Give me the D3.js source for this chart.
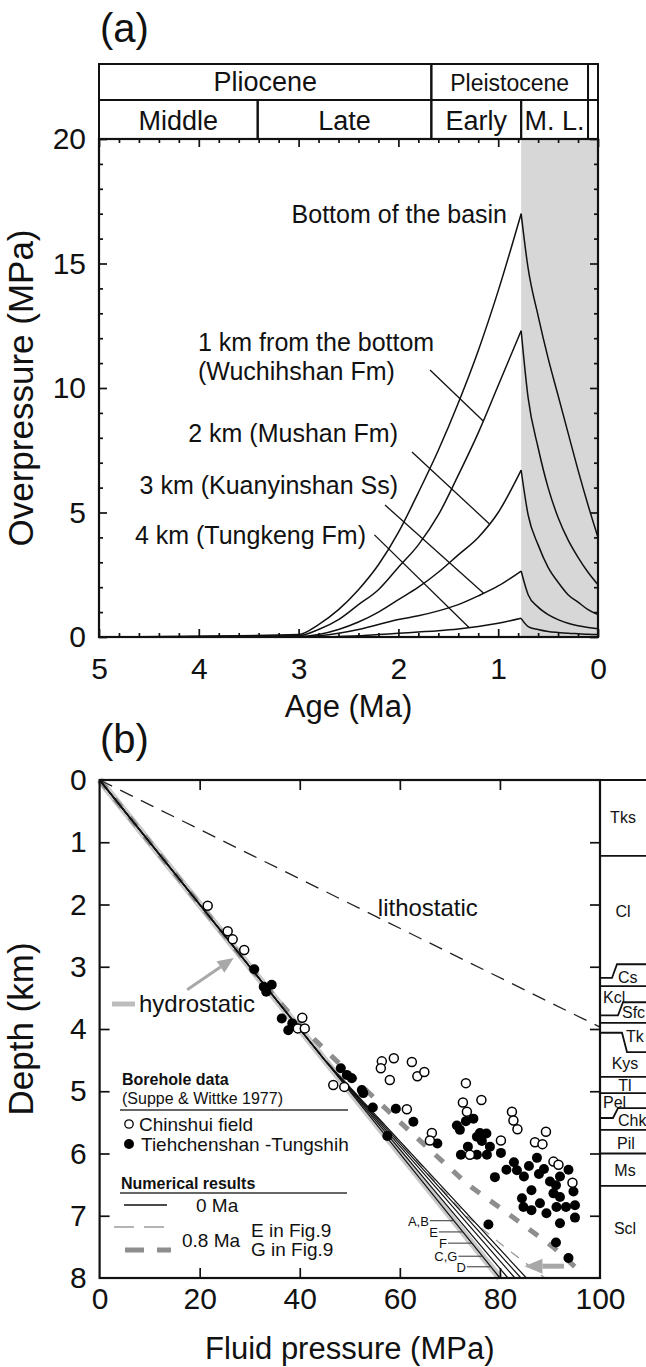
<!DOCTYPE html>
<html><head><meta charset="utf-8">
<script src="https://cdn.jsdelivr.net/npm/d3@7"></script>
<style>
body{margin:0;background:#fff}
svg{display:block}
text{font-family:"Liberation Sans",Arial,Helvetica,sans-serif;fill:#111}
</style>
</head><body>
<svg id="c" width="646" height="1367"></svg>
<script>
// ===================== DATA: panel (a) =====================
const ageTicks = [5,4,3,2,1,0];
const overTicks = [0,5,10,15,20];
const epochNames = ["Pliocene","Pleistocene",""];
const epochStart = [5,1.67,0.1];
const epochEnd   = [1.67,0.1,0];
const stageNames = ["Middle","Late","Early","M. L.",""];
const stageStart = [5,3.41,1.67,0.77,0.1];
const stageEnd   = [3.41,1.67,0.77,0.1,0];
const shadeFrom = 0.77;
const riseAge  = [3.0,2.8,2.6,2.4,2.2,2.0,1.8,1.6,1.4,1.2,1.0,0.77];
const decayAge = [0.77,0.7,0.6,0.5,0.4,0.3,0.2,0.1,0];
const bottomRise  = [0.1,0.5,1.1,1.9,2.9,4.2,5.8,7.5,9.4,11.5,13.9,17.0];
const bottomDecay = [17.0,14.8,12.9,11.2,9.7,8.2,6.7,5.3,4.0];
const km1Rise  = [0.05,0.3,0.7,1.3,1.9,2.8,3.7,4.9,6.5,8.2,10.1,12.3];
const km1Decay = [12.3,9.6,7.6,6.0,4.8,3.9,3.2,2.6,2.1];
const km2Rise  = [0.02,0.1,0.3,0.6,1.0,1.5,2.0,2.6,3.3,4.0,5.0,6.7];
const km2Decay = [6.7,4.9,3.7,2.8,2.2,1.7,1.4,1.1,0.9];
const km3Rise  = [0,0.05,0.15,0.3,0.5,0.7,0.85,1.05,1.3,1.65,2.05,2.65];
const km3Decay = [2.65,1.7,1.2,0.9,0.7,0.55,0.45,0.38,0.33];
const km4Rise  = [0,0,0.02,0.05,0.1,0.15,0.2,0.25,0.32,0.42,0.55,0.75];
const km4Decay = [0.75,0.42,0.3,0.22,0.18,0.15,0.13,0.11,0.1];
const curveLabel1 = ["Bottom of the basin","1 km from the bottom","2 km (Mushan Fm)","3 km (Kuanyinshan Ss)","4 km (Tungkeng Fm)"];
const curveLabel2 = ["","(Wuchihshan Fm)","","",""];
const leaderFromAge = [null,1.683,1.864,2.134,2.24];
const leaderFromVal = [null,10.72,7.43,5.3,4.1];
const leaderToAge   = [null,1.15,1.09,1.146,1.29];

// ===================== DATA: panel (b) =====================
const pressTicks = [0,20,40,60,80,100];
const depthTicks = [0,1,2,3,4,5,6,7,8];
const lithoPress = [0,100], lithoDepth = [0,3.97];
const hydroPress = [0,80],  hydroDepth = [0,8];
const zeroMaPress = [80,81.6,83.0,84.2,85.3];
const zeroMaKnee = [45,4.5];
const zeroMaNames = ["A,B","E","F","C,G","D"];
const zeroMaLabelDepth = [7.08,7.26,7.44,7.65,7.82];
const eDepth = [0,3.5,4,4.5,5,5.5,6,6.5,7,7.5,8];
const ePress = [0,35,40,45.3,50.8,56.5,62.2,67.6,73.3,80.9,89];
const gDepth = [0,3,3.5,4,4.5,5,5.5,6,6.5,7,7.5,7.82];
const gPress = [0,30,35.2,40.8,47.2,53.5,60.1,66.8,73.6,82.2,90.6,95.0];
const chinshuiP = [21.6,25.6,26.6,28.9,40.5,39.6,41.0,46.7,48.9,56.4,56.2,58.8,58.0,62.4,63.5,64.9,61.4,66.4,66.0,73.2,72.6,73.4,76.3,82.4,82.7,83.5,89.2,80.2,87.0,88.5,90.7,91.7,94.5,74.0];
const chinshuiD = [2.02,2.43,2.56,2.73,3.82,3.99,3.99,4.90,4.93,4.52,4.63,4.47,4.82,4.53,4.76,4.69,5.29,5.67,5.79,4.87,5.18,5.33,5.14,5.33,5.47,5.61,5.65,5.79,5.82,5.85,6.13,6.18,6.47,6.02];
const tiehP = [30.9,32.8,34.4,33.3,36.4,37.7,38.5,48.2,49.4,50.4,52.4,52.7,54.6,59.2,62.7,57.5,67.5,71.4,72.0,73.2,74.7,75.4,72.2,73.6,76.0,77.3,76.4,78.0,75.4,77.4,80.2,79.0,81.3,82.8,83.4,84.8,85.8,87.4,87.8,93.7,92.0,91.2,86.3,94.7,90.7,84.4,92.0,84.7,86.3,88.0,89.3,91.3,93.2,95.0,95.0,92.0,77.7,91.2,93.7,90.0,88.8];
const tiehD = [3.04,3.32,3.29,3.40,3.83,4.02,3.91,4.63,4.74,4.79,4.98,5.03,5.26,5.28,5.49,5.72,5.84,5.55,5.62,5.48,5.44,5.73,6.02,5.89,5.67,5.68,5.80,5.89,6.02,6.02,5.99,6.38,6.26,6.14,6.27,6.37,6.20,6.07,6.33,6.26,6.37,6.51,6.59,6.61,6.64,6.72,6.70,6.86,6.91,6.80,6.96,6.86,6.86,6.83,7.03,7.12,7.14,7.43,7.68,6.45,6.25];
const formNames = ["Tks","Cl","Cs","Kcl","Sfc","Tk","Kys","Tl","Pel","Chk","Pil","Ms","Scl"];
const formLabelDepth = [0.6,2.1,3.17,3.49,3.73,4.11,4.55,4.9,5.17,5.46,5.83,6.27,7.2];
const boundLeft  = [1.22,3.18,3.31,3.78,3.90,4.06,4.77,5.03,5.43,5.62,6.0,6.52];
const boundRight = [1.22,2.96,3.31,3.57,3.90,4.37,4.77,5.03,5.27,5.62,6.0,6.52];
const hydroArrowFrom = [17.5,3.37], hydroArrowTo = [26.8,2.86];
const bottomArrowFrom = [92.8,7.81], bottomArrowTo = [84.9,7.81];

// ===================== LAYOUT =====================
const svg = d3.select("#c");
const FONT_TICK = 30, FONT_TITLE = 31, FONT_VTITLE = 35;
const xA = d3.scaleLinear().domain([5,0]).range([99,598]);
const yA = d3.scaleLinear().domain([0,20]).range([637,139]);
const xB = d3.scaleLinear().domain([0,100]).range([99.6,600]);
const yB = d3.scaleLinear().domain([0,8]).range([780,1278]);

function styleAxis(g, withText){
  g.select(".domain").remove();
  g.selectAll(".tick line").attr("stroke","#111").attr("stroke-width",1.7);
  g.selectAll("text").attr("font-size",FONT_TICK).attr("fill","#111")
   .attr("font-family",'"Liberation Sans",Arial,sans-serif');
  if(!withText) g.selectAll("text").remove();
}

// ---------- Panel (a) ----------
svg.append("text").attr("x",100).attr("y",42).attr("font-size",40).text("(a)");

const gA = svg.append("g");
gA.append("rect").attr("x",xA(shadeFrom)).attr("y",yA(20))
  .attr("width",xA(0)-xA(shadeFrom)).attr("height",yA(0)-yA(20)).attr("fill","#d7d7d7");

const headTop = 64, headMid = 100, headBot = yA(20);
epochNames.forEach((n,i)=>{
  gA.append("rect").attr("x",xA(epochStart[i])).attr("y",headTop)
    .attr("width",xA(epochEnd[i])-xA(epochStart[i])).attr("height",headMid-headTop)
    .attr("fill","none").attr("stroke","#111").attr("stroke-width",2);
  if(n) gA.append("text").attr("x",(xA(epochStart[i])+xA(epochEnd[i]))/2).attr("y",headMid-9)
    .attr("text-anchor","middle").attr("font-size", i===0?27:23).text(n);
});
stageNames.forEach((n,i)=>{
  gA.append("rect").attr("x",xA(stageStart[i])).attr("y",headMid)
    .attr("width",xA(stageEnd[i])-xA(stageStart[i])).attr("height",headBot-headMid)
    .attr("fill","none").attr("stroke","#111").attr("stroke-width",2);
  if(n) gA.append("text").attr("x",(xA(stageStart[i])+xA(stageEnd[i]))/2).attr("y",headBot-9)
    .attr("text-anchor","middle").attr("font-size",27).text(n);
});

const minorAge = d3.range(0,5.001,0.2).map(d=>+d.toFixed(1)).filter(d=>Math.abs(d-Math.round(d))>1e-6);
const minorOver = d3.range(0,21,1).filter(d=>d%5!==0);
gA.append("g").attr("transform",`translate(0,${yA(0)})`)
  .call(d3.axisBottom(xA).tickValues(ageTicks).tickSize(-8).tickPadding(21).tickFormat(d3.format("d")))
  .call(g=>styleAxis(g,true));
gA.append("g").attr("transform",`translate(0,${yA(0)})`)
  .call(d3.axisBottom(xA).tickValues(minorAge).tickSize(-4)).call(g=>styleAxis(g,false));
gA.append("g").attr("transform",`translate(0,${yA(20)})`)
  .call(d3.axisTop(xA).tickValues(ageTicks).tickSize(-8)).call(g=>styleAxis(g,false));
gA.append("g").attr("transform",`translate(0,${yA(20)})`)
  .call(d3.axisTop(xA).tickValues(minorAge).tickSize(-4)).call(g=>styleAxis(g,false));
gA.append("g").attr("transform",`translate(${xA(5)},0)`)
  .call(d3.axisLeft(yA).tickValues(overTicks).tickSize(-8).tickPadding(13))
  .call(g=>styleAxis(g,true));
gA.append("g").attr("transform",`translate(${xA(5)},0)`)
  .call(d3.axisLeft(yA).tickValues(minorOver).tickSize(-4)).call(g=>styleAxis(g,false));
gA.append("g").attr("transform",`translate(${xA(0)},0)`)
  .call(d3.axisRight(yA).tickValues(overTicks).tickSize(-8)).call(g=>styleAxis(g,false));
gA.append("g").attr("transform",`translate(${xA(0)},0)`)
  .call(d3.axisRight(yA).tickValues(minorOver).tickSize(-4)).call(g=>styleAxis(g,false));

const lineA = d3.line().x(d=>xA(d[0])).y(d=>yA(d[1])).curve(d3.curveMonotoneX);
const curves = [[bottomRise,bottomDecay],[km1Rise,km1Decay],[km2Rise,km2Decay],[km3Rise,km3Decay],[km4Rise,km4Decay]];
curves.forEach(([r,dcy])=>{
  const rise = [[5,0]].concat(riseAge.map((a,i)=>[a,r[i]]));
  const dec = decayAge.map((a,i)=>[a,dcy[i]]);
  gA.append("path").attr("d",lineA(rise)).attr("fill","none").attr("stroke","#111").attr("stroke-width",1.5);
  gA.append("path").attr("d",lineA(dec)).attr("fill","none").attr("stroke","#111").attr("stroke-width",1.5);
});
function valAt(arr, age){
  for(let i=0;i<riseAge.length-1;i++){
    if(age<=riseAge[i] && age>=riseAge[i+1]){
      const t=(riseAge[i]-age)/(riseAge[i]-riseAge[i+1]);
      return arr[i]+t*(arr[i+1]-arr[i]);
    }
  }
  return 0;
}
gA.append("text").attr("x",507).attr("y",yA(bottomRise[bottomRise.length-1])+9)
  .attr("text-anchor","end").attr("font-size",25).text(curveLabel1[0]);
const labelPos = [null,{x:198,y:351,a:"start"},{x:398,y:442,a:"end"},{x:398,y:494,a:"end"},{x:366,y:544,a:"end"}];
for(let i=1;i<5;i++){
  gA.append("text").attr("x",labelPos[i].x).attr("y",labelPos[i].y).attr("text-anchor",labelPos[i].a)
    .attr("font-size",25).text(curveLabel1[i]);
  if(curveLabel2[i]) gA.append("text").attr("x",labelPos[i].x).attr("y",labelPos[i].y+29)
    .attr("text-anchor",labelPos[i].a).attr("font-size",25).text(curveLabel2[i]);
  gA.append("line").attr("x1",xA(leaderFromAge[i])).attr("y1",yA(leaderFromVal[i]))
    .attr("x2",xA(leaderToAge[i])).attr("y2",yA(valAt(curves[i][0],leaderToAge[i])))
    .attr("stroke","#111").attr("stroke-width",1.3);
}
gA.append("rect").attr("x",xA(5)).attr("y",yA(20)).attr("width",xA(0)-xA(5)).attr("height",yA(0)-yA(20))
  .attr("fill","none").attr("stroke","#111").attr("stroke-width",2.2);
svg.append("text").attr("x",(xA(5)+xA(0))/2).attr("y",717).attr("text-anchor","middle")
  .attr("font-size",FONT_TITLE).text("Age (Ma)");
svg.append("text").attr("transform",`translate(33,${(yA(0)+yA(20))/2}) rotate(-90)`)
  .attr("text-anchor","middle").attr("font-size",FONT_VTITLE).text("Overpressure (MPa)");

// ---------- Panel (b) ----------
svg.append("text").attr("x",100).attr("y",753).attr("font-size",40).text("(b)");
const gB = svg.append("g");
const lineB = d3.line().x(d=>xB(d[0])).y(d=>yB(d[1]));
gB.append("path").attr("d",lineB(hydroPress.map((p,i)=>[p,hydroDepth[i]])))
  .attr("stroke","#c9c9c9").attr("stroke-width",7).attr("fill","none");
gB.append("path").attr("d",lineB(gPress.map((p,i)=>[p,gDepth[i]])))
  .attr("stroke","#8e8e8e").attr("stroke-width",5).attr("stroke-dasharray","11,13").attr("fill","none");
gB.append("path").attr("d",lineB(ePress.map((p,i)=>[p,eDepth[i]])))
  .attr("stroke","#9c9c9c").attr("stroke-width",1.3).attr("stroke-dasharray","10,9").attr("fill","none");
gB.append("path").attr("d",lineB(lithoPress.map((p,i)=>[p,lithoDepth[i]])))
  .attr("stroke","#222").attr("stroke-width",1.3).attr("stroke-dasharray","14,9").attr("fill","none");
gB.append("text").attr("x",xB(55.6)).attr("y",yB(2.04)+9).attr("font-size",24).text("lithostatic");
zeroMaPress.forEach(p=>{
  gB.append("path").attr("d",lineB([[0,0],zeroMaKnee,[p,8]]))
    .attr("stroke","#111").attr("stroke-width",1.2).attr("fill","none");
});
zeroMaNames.forEach((n,i)=>{
  const d = zeroMaLabelDepth[i];
  const xl = xB(d*zeroMaPress[0]/8);
  gB.append("line").attr("x1",xl-24).attr("x2",xl).attr("y1",yB(d)).attr("y2",yB(d))
    .attr("stroke","#333").attr("stroke-width",1);
  gB.append("text").attr("x",xl-25).attr("y",yB(d)+5).attr("text-anchor","end")
    .attr("font-size",13).text(n);
});
gB.selectAll("circle.t").data(tiehP.map((p,i)=>[p,tiehD[i]])).join("circle")
  .attr("cx",d=>xB(d[0])).attr("cy",d=>yB(d[1])).attr("r",5).attr("fill","#000");
gB.selectAll("circle.c").data(chinshuiP.map((p,i)=>[p,chinshuiD[i]])).join("circle")
  .attr("cx",d=>xB(d[0])).attr("cy",d=>yB(d[1])).attr("r",4.5).attr("fill","#fff")
  .attr("stroke","#000").attr("stroke-width",1.5);
function arrow(from,to,w,hl,hw){
  const x1=xB(from[0]),y1=yB(from[1]),x2=xB(to[0]),y2=yB(to[1]);
  const ang=Math.atan2(y2-y1,x2-x1);
  const bx=x2-hl*Math.cos(ang), by=y2-hl*Math.sin(ang);
  gB.append("line").attr("x1",x1).attr("y1",y1).attr("x2",bx).attr("y2",by)
    .attr("stroke","#a8a8a8").attr("stroke-width",w);
  const px=-Math.sin(ang)*hw, py=Math.cos(ang)*hw;
  gB.append("path").attr("d",`M${x2},${y2}L${bx+px},${by+py}L${bx-px},${by-py}Z`).attr("fill","#a8a8a8");
}
arrow(hydroArrowFrom,hydroArrowTo,3,16,7);
arrow(bottomArrowFrom,bottomArrowTo,5,18,7.5);
gB.append("line").attr("x1",112).attr("x2",135).attr("y1",1004).attr("y2",1004)
  .attr("stroke","#bdbdbd").attr("stroke-width",5);
gB.append("text").attr("x",139).attr("y",1012).attr("font-size",24).text("hydrostatic");
const lg = gB.append("g");
lg.append("text").attr("x",122).attr("y",1085).attr("font-size",16).attr("font-weight","bold").text("Borehole data");
lg.append("text").attr("x",122).attr("y",1104).attr("font-size",16).text("(Suppe & Wittke 1977)");
lg.append("line").attr("x1",120).attr("x2",348).attr("y1",1110).attr("y2",1110).attr("stroke","#333").attr("stroke-width",1.5);
lg.append("circle").attr("cx",129).attr("cy",1124).attr("r",4.2).attr("fill","#fff").attr("stroke","#000").attr("stroke-width",1.3);
lg.append("text").attr("x",139).attr("y",1131).attr("font-size",19).text("Chinshui field");
lg.append("circle").attr("cx",129).attr("cy",1144).attr("r",5).attr("fill","#000");
lg.append("text").attr("x",141).attr("y",1151).attr("font-size",19).text("Tiehchenshan -Tungshih");
lg.append("text").attr("x",121).attr("y",1189).attr("font-size",16).attr("font-weight","bold").text("Numerical results");
lg.append("line").attr("x1",120).attr("x2",347).attr("y1",1193).attr("y2",1193).attr("stroke","#333").attr("stroke-width",1.5);
lg.append("line").attr("x1",124).attr("x2",167).attr("y1",1205).attr("y2",1205).attr("stroke","#111").attr("stroke-width",1.3);
lg.append("text").attr("x",196).attr("y",1212).attr("font-size",19).text("0 Ma");
lg.append("line").attr("x1",114).attr("x2",167).attr("y1",1227).attr("y2",1227).attr("stroke","#9c9c9c").attr("stroke-width",1.3).attr("stroke-dasharray","20,10");
lg.append("line").attr("x1",125).attr("x2",171).attr("y1",1250).attr("y2",1250).attr("stroke","#8e8e8e").attr("stroke-width",5).attr("stroke-dasharray","19,13");
lg.append("text").attr("x",182).attr("y",1247).attr("font-size",19).text("0.8 Ma");
lg.append("text").attr("x",251).attr("y",1237).attr("font-size",19).text("E in Fig.9");
lg.append("text").attr("x",251).attr("y",1256).attr("font-size",19).text("G in Fig.9");

const innerP = pressTicks.filter(d=>d>0&&d<100);
const innerD = depthTicks.filter(d=>d>0&&d<8);
gB.append("g").attr("transform",`translate(0,${yB(8)})`)
  .call(d3.axisBottom(xB).tickValues(pressTicks).tickSize(-10).tickPadding(10))
  .call(g=>{styleAxis(g,true); g.selectAll(".tick").filter(d=>d===0||d===100).select("line").remove();});
gB.append("g").attr("transform",`translate(0,${yB(0)})`)
  .call(d3.axisTop(xB).tickValues(innerP).tickSize(-10)).call(g=>styleAxis(g,false));
gB.append("g").attr("transform",`translate(${xB(0)},0)`)
  .call(d3.axisLeft(yB).tickValues(depthTicks).tickSize(-10).tickPadding(13))
  .call(g=>{styleAxis(g,true); g.selectAll(".tick").filter(d=>d===0||d===8).select("line").remove();});
gB.append("g").attr("transform",`translate(${xB(100)},0)`)
  .call(d3.axisRight(yB).tickValues(innerD).tickSize(-10)).call(g=>styleAxis(g,false));
gB.append("rect").attr("x",xB(0)).attr("y",yB(0)).attr("width",xB(100)-xB(0)).attr("height",yB(8)-yB(0))
  .attr("fill","none").attr("stroke","#111").attr("stroke-width",2.2);

const colX = xB(100), colR = 646;
gB.append("line").attr("x1",colX).attr("x2",colR).attr("y1",yB(0)).attr("y2",yB(0)).attr("stroke","#111").attr("stroke-width",2);
const stepAt = [0,12,0,18,0,22,0,0,13,0,0,0];
boundLeft.forEach((l,i)=>{
  const r = boundRight[i];
  let d;
  if(l===r) d = `M${colX},${yB(l)}H${colR}`;
  else { const sx = colX+stepAt[i]; d = `M${colX},${yB(l)}H${sx}L${sx+5},${yB(r)}H${colR}`; }
  gB.append("path").attr("d",d).attr("fill","none").attr("stroke","#111").attr("stroke-width",1.8);
});
const formX = [623,623,618,603,622,626,625,625,603,618,626,625,625];
const formAnchor = ["middle","middle","start","start","start","start","middle","middle","start","start","middle","middle","middle"];
formNames.forEach((n,i)=>{
  gB.append("text").attr("x",formX[i]).attr("y",yB(formLabelDepth[i])+6).attr("text-anchor",formAnchor[i])
    .attr("font-size",16).text(n);
});

svg.append("text").attr("x",(xB(0)+xB(100))/2).attr("y",1359).attr("text-anchor","middle")
  .attr("font-size",FONT_TITLE).text("Fluid pressure (MPa)");
svg.append("text").attr("transform",`translate(33,${(yB(0)+yB(8))/2}) rotate(-90)`)
  .attr("text-anchor","middle").attr("font-size",FONT_VTITLE).text("Depth (km)");
</script>
</body></html>
